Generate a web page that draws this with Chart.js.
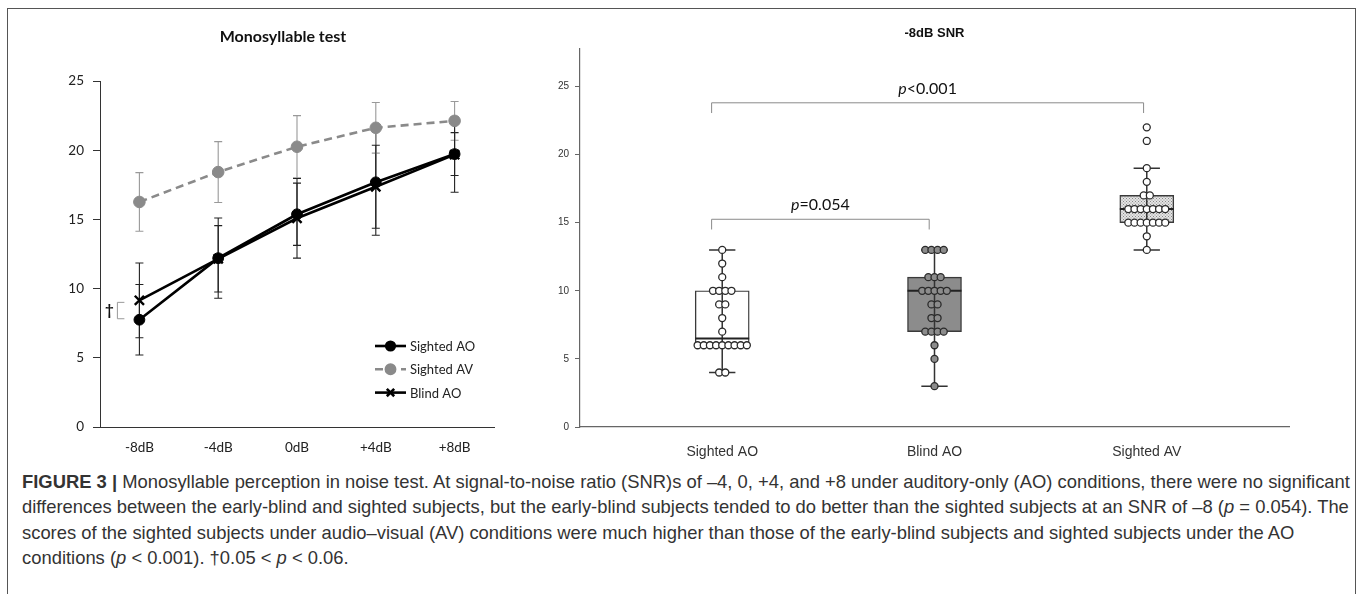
<!DOCTYPE html>
<html>
<head>
<meta charset="utf-8">
<script src="https://cdn.jsdelivr.net/npm/chart.js@4.4.1/dist/chart.umd.min.js"></script>
<style>
  body { margin: 0; background: #fff; width: 1358px; height: 594px; overflow: hidden; position: relative; }
  #frame { position: absolute; left: 7px; top: 8px; width: 1347px; height: 600px; border: 1px solid #555; }
  #wL { position: absolute; left: 0; top: 0; width: 520px; height: 460px; }
  #wR { position: absolute; left: 520px; top: 0; width: 838px; height: 460px; }
  #cap { position: absolute; left: 22px; top: 469px; white-space: nowrap; color: #333;
         font-family: 'Liberation Sans', Arial, sans-serif; font-size: 18.4px; line-height: 25.4px; }
  #cap b { color: #333; }
</style>
</head>
<body>
<div id="frame"></div>
<div id="wL"><canvas id="cLeft" width="520" height="460"></canvas></div>
<div id="wR"><canvas id="cRight" width="838" height="460"></canvas></div>
<div id="cap"><b>FIGURE 3 |</b> Monosyllable perception in noise test. At signal-to-noise ratio (SNR)s of –4, 0, +4, and +8 under auditory-only (AO) conditions, there were no significant<br>differences between the early-blind and sighted subjects, but the early-blind subjects tended to do better than the sighted subjects at an SNR of –8 (<i>p</i> = 0.054). The<br>scores of the sighted subjects under audio–visual (AV) conditions were much higher than those of the early-blind subjects and sighted subjects under the AO<br>conditions (<i>p</i> &lt; 0.001). †0.05 &lt; <i>p</i> &lt; 0.06.</div>

<script>
// ---- Data panel kiri: skor rata-rata + SD per SNR ----
const snrLabels   = ['-8dB', '-4dB', '0dB', '+4dB', '+8dB'];
const sightedAO   = [7.75, 12.2, 15.37, 17.68, 19.72];
const sightedAOsd = [2.55, 2.9, 2.25, 3.83, 1.55];
const sightedAV   = [16.26, 18.42, 20.25, 21.62, 22.12];
const sightedAVsd = [2.12, 2.2, 2.25, 1.83, 1.4];
const blindAO     = [9.15, 12.15, 15.08, 17.36, 19.68];
const blindAOsd   = [2.7, 2.4, 2.88, 3.0, 2.72];
const leftTicks   = [0, 5, 10, 15, 20, 25];

// ---- Data panel kanan: skor individu di -8dB ----
const groups           = ['Sighted AO', 'Blind AO', 'Sighted AV'];
const scoresSightedAO  = [13, 12, 11, 10, 10, 10, 10, 9, 9, 8, 7, 6, 6, 6, 6, 6, 6, 6, 6, 6, 4, 4];
const scoresBlindAO    = [13, 13, 13, 13, 11, 11, 11, 10, 10, 10, 10, 10, 9, 9, 8, 8, 7, 7, 7, 7, 6, 5, 3];
const scoresSightedAV  = [22, 21, 19, 18, 17, 17, 16, 16, 16, 16, 16, 16, 16, 15, 15, 15, 15, 15, 15, 15, 14, 13];
const boxQ1     = [6, 7, 15];
const boxMedian = [6.5, 10, 16];
const boxQ3     = [10, 11, 17];
const whiskLo   = [4, 3, 13];
const whiskHi   = [13, 13, 19];
const rightTicks = [0, 5, 10, 15, 20, 25];

const FONT_L = "Lato, 'Open Sans', sans-serif";
const FONT_R = "'Liberation Sans', Arial, sans-serif";

// =====================================================
// PANEL KIRI: line chart + error bar
// =====================================================
const leftDecor = {
  id: 'leftDecor',
  beforeDatasetsDraw(chart) {
    const ctx = chart.ctx, y = chart.scales.y;
    chart.data.datasets.forEach((ds, di) => {
      const meta = chart.getDatasetMeta(di);
      ctx.save();
      ctx.strokeStyle = ds.errColor;
      ctx.lineWidth = 1.1;
      meta.data.forEach((pt, i) => {
        const top = y.getPixelForValue(ds.data[i] + ds.sd[i]);
        const bot = y.getPixelForValue(ds.data[i] - ds.sd[i]);
        ctx.beginPath();
        ctx.moveTo(pt.x, top); ctx.lineTo(pt.x, bot);
        ctx.moveTo(pt.x - 4, top); ctx.lineTo(pt.x + 4, top);
        ctx.moveTo(pt.x - 4, bot); ctx.lineTo(pt.x + 4, bot);
        ctx.stroke();
      });
      ctx.restore();
    });
  },
  afterDraw(chart) {
    const ctx = chart.ctx, y = chart.scales.y, x = chart.scales.x;
    ctx.save();
    // judul
    ctx.fillStyle = '#111';
    ctx.font = 'bold 16px ' + FONT_L;
    ctx.textAlign = 'center'; ctx.textBaseline = 'middle';
    ctx.fillText('Monosyllable test', 283, 37);

    // tanda † antara Sighted AO dan Blind AO di -8dB
    const yT = y.getPixelForValue(blindAO[0]), yB = y.getPixelForValue(sightedAO[0]);
    const bx = x.getPixelForValue(0) - 22;
    ctx.strokeStyle = '#999'; ctx.lineWidth = 1;
    ctx.beginPath();
    ctx.moveTo(bx + 7, yT + 2); ctx.lineTo(bx, yT + 2); ctx.lineTo(bx, yB - 1); ctx.lineTo(bx + 7, yB - 1);
    ctx.stroke();
    ctx.fillStyle = '#111';
    ctx.font = 'bold 15px ' + FONT_L;
    ctx.fillText('†', bx - 8, (yT + yB) / 2);

    // legenda
    chart.data.datasets.forEach((ds, i) => {
      const ly = 346 + i * 23.3;
      ctx.strokeStyle = ds.borderColor;
      ctx.lineWidth = ds.borderWidth;
      ctx.setLineDash(ds.borderDash || []);
      ctx.beginPath(); ctx.moveTo(375, ly); ctx.lineTo(406, ly); ctx.stroke();
      ctx.setLineDash([]);
      ctx.fillStyle = ds.pointBackgroundColor;
      ctx.strokeStyle = ds.pointBorderColor;
      Chart.helpers.drawPoint(ctx, { pointStyle: ds.pointStyle, radius: ds.pointRadius * 0.8, borderWidth: ds.pointBorderWidth, rotation: 0 }, 390.5, ly);
      ctx.fillStyle = '#222';
      ctx.font = '13px ' + FONT_L;
      ctx.textAlign = 'left';
      ctx.fillText(ds.label, 410, ly + 1);
    });
    ctx.restore();
  }
};

new Chart(document.getElementById('cLeft'), {
  type: 'line',
  data: {
    labels: snrLabels,
    datasets: [
      {
        label: 'Sighted AO', data: sightedAO, sd: sightedAOsd, errColor: '#222',
        borderColor: '#000', borderWidth: 2.6, pointStyle: 'circle', pointRadius: 5.4,
        pointBackgroundColor: '#000', pointBorderColor: '#000', pointBorderWidth: 1, tension: 0
      },
      {
        label: 'Sighted AV', data: sightedAV, sd: sightedAVsd, errColor: '#999',
        borderColor: '#8a8a8a', borderWidth: 2.6, borderDash: [8, 5], pointStyle: 'circle', pointRadius: 5.8,
        pointBackgroundColor: '#8a8a8a', pointBorderColor: '#8a8a8a', pointBorderWidth: 1, tension: 0
      },
      {
        label: 'Blind AO', data: blindAO, sd: blindAOsd, errColor: '#222',
        borderColor: '#000', borderWidth: 2.6, pointStyle: 'crossRot', pointRadius: 6.5,
        pointBackgroundColor: '#000', pointBorderColor: '#000', pointBorderWidth: 2.4, tension: 0
      }
    ]
  },
  options: {
    responsive: false, animation: false,
    layout: { padding: { top: 81, right: 26, left: 0, bottom: 0 } },
    plugins: { legend: { display: false }, tooltip: { enabled: false } },
    scales: {
      x: {
        offset: true,
        afterFit: s => { s.height = 33; },
        grid: { display: false, offset: true },
        border: { color: '#333', width: 1 },
        ticks: { color: '#222', font: { family: FONT_L, size: 13.5 }, padding: 5 }
      },
      y: {
        min: 0, max: 25,
        afterFit: s => { s.width = 100; },
        afterBuildTicks: s => { s.ticks = leftTicks.map(v => ({ value: v })); },
        grid: { drawOnChartArea: false, tickLength: 7, color: '#333' },
        border: { color: '#333', width: 1 },
        ticks: { color: '#222', font: { family: FONT_L, size: 13.5 }, padding: 9 }
      }
    }
  },
  plugins: [leftDecor]
});

// =====================================================
// PANEL KANAN: box plot + titik individu
// =====================================================
function swarm(vals, g, dx) {
  const cnt = {}, seen = {};
  vals.forEach(v => { cnt[v] = (cnt[v] || 0) + 1; });
  return vals.map(v => {
    const i = seen[v] = (seen[v] || 0) + 1;
    return { x: g + (i - 1 - (cnt[v] - 1) / 2) * dx, y: v };
  });
}

function segs(list) {
  const out = [];
  list.forEach(s => { out.push({ x: s[0], y: s[1] }, { x: s[2], y: s[3] }, { x: s[2], y: null }); });
  return out;
}

// pola titik-titik untuk box Sighted AV
const pat = document.createElement('canvas');
pat.width = 3; pat.height = 3;
const pc = pat.getContext('2d');
pc.fillStyle = '#e4e4e4'; pc.fillRect(0, 0, 3, 3);
pc.fillStyle = '#8a8a8a'; pc.fillRect(0, 0, 1, 1); pc.fillRect(1.5, 1.5, 1, 1);
const dotPattern = pc.createPattern(pat, 'repeat');

const DX = 0.029, CAP = 0.062, HALF = 0.127;
const whiskerSegs = [], capSegs = [], medianSegs = [];
groups.forEach((g, i) => {
  whiskerSegs.push([i, whiskLo[i], i, whiskHi[i]]);
  capSegs.push([i - CAP, whiskLo[i], i + CAP, whiskLo[i]], [i - CAP, whiskHi[i], i + CAP, whiskHi[i]]);
  medianSegs.push([i - HALF, boxMedian[i], i + HALF, boxMedian[i]]);
});

const rightDecor = {
  id: 'rightDecor',
  afterDraw(chart) {
    const ctx = chart.ctx, x = chart.scales.x, y = chart.scales.y;
    ctx.save();
    ctx.fillStyle = '#111';
    ctx.font = 'bold 13px ' + FONT_R;
    ctx.textAlign = 'center'; ctx.textBaseline = 'middle';
    ctx.fillText('-8dB SNR', (chart.chartArea.left + chart.chartArea.right) / 2, 33);

    // garis pembanding
    function bracket(g1, g2, yv, drop, label, ly) {
      const x1 = x.getPixelForValue(g1), x2 = x.getPixelForValue(g2);
      const yy = y.getPixelForValue(yv), yd = y.getPixelForValue(yv - drop);
      ctx.strokeStyle = '#8a8a8a'; ctx.lineWidth = 1;
      ctx.beginPath();
      ctx.moveTo(x1, yd); ctx.lineTo(x1, yy); ctx.lineTo(x2, yy); ctx.lineTo(x2, yd);
      ctx.stroke();
      const cx = (x1 + x2) / 2, py = y.getPixelForValue(ly);
      ctx.font = 'italic 16px ' + FONT_L;
      const wp = ctx.measureText('p').width;
      ctx.font = '16px ' + FONT_L;
      const wr = ctx.measureText(label).width;
      const sx = cx - (wp + wr) / 2;
      ctx.fillStyle = '#111'; ctx.textAlign = 'left';
      ctx.font = 'italic 16px ' + FONT_L;
      ctx.fillText('p', sx, py);
      ctx.font = '16px ' + FONT_L;
      ctx.fillText(label, sx + wp, py);
    }
    bracket(-0.05, 1.985, 23.8, 0.75, '<0.001', 24.8);
    bracket(-0.05, 0.975, 15.25, 0.75, '=0.054', 16.3);
    ctx.restore();
  }
};

new Chart(document.getElementById('cRight'), {
  type: 'bar',
  data: {
    datasets: [
      {
        type: 'bar', order: 4,
        data: groups.map((g, i) => ({ x: i, y: [boxQ1[i], boxQ3[i]] })),
        backgroundColor: ['#ffffff', '#8c8c8c', dotPattern],
        borderColor: '#3a3a3a', borderWidth: 1.4, borderSkipped: false,
        barThickness: 54
      },
      {
        type: 'line', order: 3, data: segs(whiskerSegs),
        borderColor: '#333', borderWidth: 1.5, pointRadius: 0, spanGaps: false
      },
      {
        type: 'line', order: 3, data: segs(capSegs),
        borderColor: '#333', borderWidth: 1.5, pointRadius: 0, spanGaps: false
      },
      {
        type: 'line', order: 2, data: segs(medianSegs),
        borderColor: '#222', borderWidth: 2, pointRadius: 0, spanGaps: false
      },
      {
        type: 'scatter', order: 1, data: swarm(scoresSightedAO, 0, DX),
        pointRadius: 3.5, pointBackgroundColor: '#ffffff', pointBorderColor: '#2a2a2a', pointBorderWidth: 1.3
      },
      {
        type: 'scatter', order: 1, data: swarm(scoresBlindAO, 1, DX),
        pointRadius: 3.5, pointBackgroundColor: '#8c8c8c', pointBorderColor: '#2a2a2a', pointBorderWidth: 1.3
      },
      {
        type: 'scatter', order: 1, data: swarm(scoresSightedAV, 2, DX),
        pointRadius: 3.5, pointBackgroundColor: '#ffffff', pointBorderColor: '#2a2a2a', pointBorderWidth: 1.3
      }
    ]
  },
  options: {
    responsive: false, animation: false,
    layout: { padding: { top: 49, right: 69, left: 0, bottom: 0 } },
    plugins: { legend: { display: false }, tooltip: { enabled: false } },
    scales: {
      x: {
        type: 'linear', min: -0.67, max: 2.67, offset: false,
        afterFit: s => { s.height = 33; },
        afterBuildTicks: s => { s.ticks = groups.map((g, i) => ({ value: i })); },
        grid: { display: false },
        border: { color: '#666', width: 1.2 },
        ticks: { color: '#333', font: { family: FONT_R, size: 14 }, padding: 9, callback: v => groups[v] }
      },
      y: {
        min: 0, max: 27.75,
        afterFit: s => { s.width = 60; },
        afterBuildTicks: s => { s.ticks = rightTicks.map(v => ({ value: v })); },
        grid: { drawOnChartArea: false, tickLength: 5, color: '#666' },
        border: { color: '#666', width: 1.2 },
        ticks: { color: '#333', font: { family: FONT_R, size: 10 }, padding: 6 }
      }
    }
  },
  plugins: [rightDecor]
});
</script>
</body>
</html>
